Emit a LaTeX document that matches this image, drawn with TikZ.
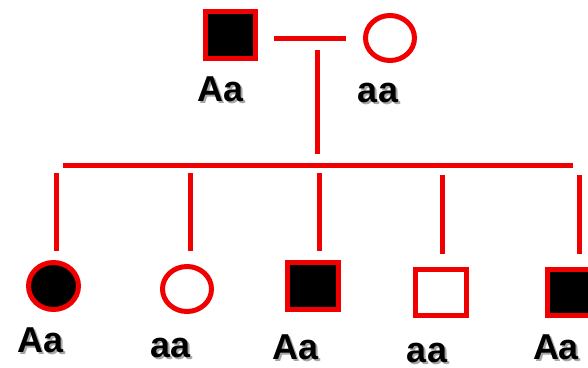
\documentclass[tikz,border=0pt]{standalone}
\usepackage{fontspec}
\setmainfont{Liberation Sans}
\usetikzlibrary{shapes.geometric}
\definecolor{pedred}{RGB}{240,0,0}
\definecolor{shadowgray}{gray}{0.65}
\tikzset{
  pline/.style={draw=pedred, line width=5pt},
  sqbox/.style={rectangle, draw=pedred, line width=5pt, inner sep=0pt},
  circbox/.style={ellipse, draw=pedred, line width=5pt, inner sep=0pt},
  aff/.style={fill=black},
  lbl/.style={font=\fontsize{36}{40}\selectfont\bfseries, text=black, anchor=base, inner sep=0pt, text depth=0pt},
}
\newcommand{\shadowtext}[1]{\makebox[0pt][l]{\hspace{2pt}\raisebox{-2pt}{\textcolor{shadowgray}{#1}}}#1}
\begin{document}
\begin{tikzpicture}[x=1pt,y=-1pt]
\useasboundingbox (0,0) rectangle (588,367);
% parents
\node[sqbox, aff, minimum width=50pt, minimum height=47pt] (father) at (230.5,35) {};
\node[circbox, minimum width=49pt, minimum height=45pt] (mother) at (390,38) {};
% marriage line and descent
\coordinate (m1) at (274,38);
\coordinate (m2) at (346,38);
\draw[pline] (m1) -- (m2);
\coordinate (d1) at (317,50);
\coordinate (d2) at (317,154);
\draw[pline] (d1) -- (d2);
% sibship line
\coordinate (s1) at (63,165);
\coordinate (s2) at (573,165);
\draw[pline] (s1) -- (s2);
% children
\node[circbox, aff, minimum width=50pt, minimum height=47pt] (c1) at (53.5,286) {};
\node[circbox, minimum width=49pt, minimum height=45pt] (c2) at (187,289) {};
\node[sqbox, aff, minimum width=51pt, minimum height=47pt] (c3) at (313,286) {};
\node[sqbox, minimum width=51pt, minimum height=46pt] (c4) at (441,292.5) {};
\node[sqbox, aff, minimum width=51pt, minimum height=46pt] (c5) at (573,292.5) {};
% child lines
\coordinate (t1) at (56,173);  \coordinate (b1) at (56,251);
\coordinate (t2) at (190,173); \coordinate (b2) at (190,251);
\coordinate (t3) at (319,173); \coordinate (b3) at (319,251);
\coordinate (t4) at (442,175); \coordinate (b4) at (442,254);
\coordinate (t5) at (579,175); \coordinate (b5) at (579,254);
\foreach \i in {1,...,5} {\draw[pline] (t\i) -- (b\i);}
% labels
\node[lbl] (lf)  at (221,101) {\shadowtext{Aa}};
\node[lbl] (lm)  at (378,102) {\shadowtext{aa}};
\node[lbl] (l1)  at (41,352)  {\shadowtext{Aa}};
\node[lbl] (l2)  at (171,357) {\shadowtext{aa}};
\node[lbl] (l3)  at (296,359) {\shadowtext{Aa}};
\node[lbl] (l4)  at (427,362) {\shadowtext{aa}};
\node[lbl] (l5)  at (556,359) {\shadowtext{Aa}};
\end{tikzpicture}
\end{document}
